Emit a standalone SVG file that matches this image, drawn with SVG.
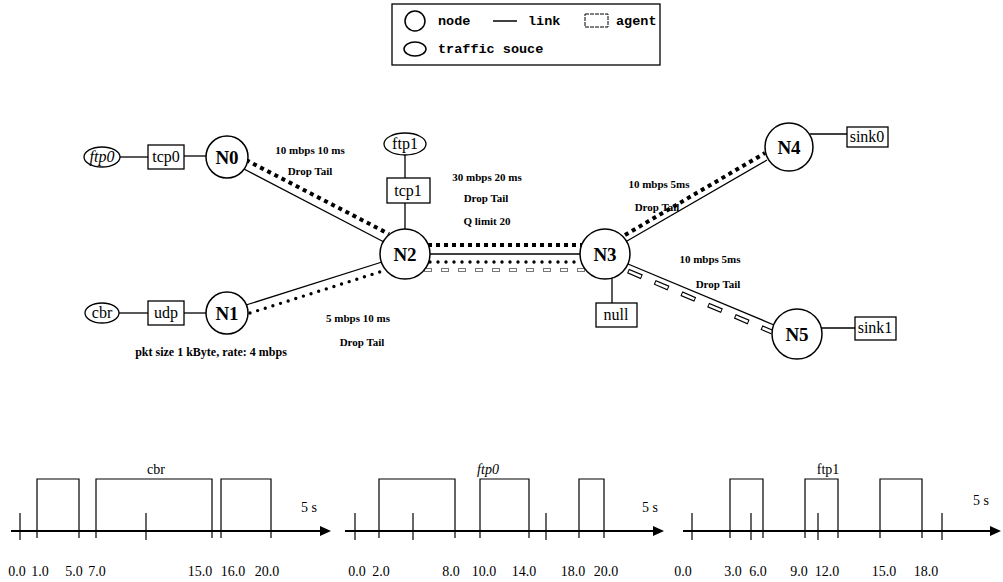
<svg xmlns="http://www.w3.org/2000/svg" width="1003" height="582" viewBox="0 0 1003 582">
<style>
.bg{fill:#fff}
.nd{fill:#fff;stroke:#000;stroke-width:1.5}
.ag{fill:#fff;stroke:#000;stroke-width:1.3}
.ln{stroke:#000;stroke-width:1.3;fill:none}
.sq{stroke:#000;stroke-width:4;stroke-dasharray:4 4;fill:none}
.rd{stroke:#000;stroke-width:3.4;stroke-linecap:round;stroke-dasharray:0 8;fill:none}
.nl{font-family:"Liberation Serif",serif;font-weight:bold;font-size:19px;text-anchor:middle}
.al{font-family:"Liberation Serif",serif;font-size:16px;text-anchor:middle}
.it{font-style:italic}
.lk{font-family:"Liberation Serif",serif;font-weight:bold;font-size:11px;text-anchor:middle}
.pk{font-family:"Liberation Serif",serif;font-weight:bold;font-size:12px;text-anchor:middle}
.lg{font-family:"Liberation Mono",monospace;font-weight:bold;font-size:13.5px}
.ch{font-family:"Liberation Serif",serif;font-size:14px;text-anchor:middle}
.ax{stroke:#000;stroke-width:2;fill:none}
.pl{stroke:#000;stroke-width:1.2;fill:none}
</style>
<rect class="bg" x="0" y="0" width="1003" height="582"/>

<g id="legend">
<rect x="392" y="4" width="268" height="61" fill="#fff" stroke="#000" stroke-width="1.3"/>
<circle cx="415" cy="21" r="10" fill="none" stroke="#000" stroke-width="1.5"/>
<text class="lg" x="438" y="25">node</text>
<line x1="493" y1="21" x2="517" y2="21" stroke="#000" stroke-width="1.5"/>
<text class="lg" x="528" y="25">link</text>
<rect x="585" y="14" width="23" height="13" fill="none" stroke="#000" stroke-width="1" stroke-dasharray="4 1"/>
<text class="lg" x="616" y="25">agent</text>
<ellipse cx="415" cy="49" rx="11" ry="7" fill="none" stroke="#000" stroke-width="1.5"/>
<text class="lg" x="438" y="53">traffic souce</text>
</g>

<g id="connectors">
<line class="ln" x1="120" y1="157" x2="148" y2="157"/>
<line class="ln" x1="184" y1="156" x2="206" y2="156"/>
<line class="ln" x1="119" y1="313" x2="148" y2="313"/>
<line class="ln" x1="184" y1="313" x2="206" y2="313"/>
<line class="ln" x1="405" y1="154" x2="405" y2="178"/>
<line class="ln" x1="405" y1="203" x2="405" y2="230"/>
<line class="ln" x1="612" y1="276" x2="612" y2="303"/>
<line class="ln" x1="810" y1="134" x2="847" y2="134"/>
<line class="ln" x1="820" y1="328" x2="855" y2="328"/>
<line class="ln" x1="242" y1="168" x2="384" y2="242"/>
<line class="sq" x1="246" y1="160" x2="389" y2="234"/>
<line class="ln" x1="246" y1="305" x2="382" y2="262"/>
<line class="rd" x1="250" y1="313" x2="386" y2="270"/>
<line class="ln" x1="430" y1="254" x2="580" y2="254"/>
<line class="sq" x1="428" y1="245" x2="583" y2="245"/>
<line class="rd" x1="430" y1="262" x2="582" y2="262"/>
<line x1="424" y1="270" x2="588" y2="270" stroke="#777" stroke-width="4" stroke-dasharray="8 9"/>
<line x1="424" y1="270" x2="588" y2="270" stroke="#fff" stroke-width="2" stroke-dasharray="6 11" stroke-dashoffset="-1"/>
<line class="ln" x1="627" y1="241" x2="767" y2="160"/>
<line class="sq" x1="625" y1="235" x2="765" y2="153"/>
<line class="ln" x1="628" y1="264" x2="774" y2="325"/>
<line x1="628" y1="271" x2="772" y2="332" stroke="#000" stroke-width="5" stroke-dasharray="15 14"/>
<line x1="628" y1="271" x2="772" y2="332" stroke="#fff" stroke-width="2.6" stroke-dasharray="13 16" stroke-dashoffset="-1"/>
</g>

<g id="ftp0"><ellipse class="ag" cx="102" cy="157" rx="18" ry="10"/><text class="al it" x="102" y="162">ftp0</text></g>
<g id="tcp0"><rect class="ag" x="148" y="145" width="36" height="24"/><text class="al" x="166" y="162">tcp0</text></g>
<g id="N0"><circle class="nd" cx="227" cy="157" r="21"/><text class="nl" x="227" y="164">N0</text></g>
<g id="ftp1"><ellipse class="ag" cx="405" cy="144" rx="21" ry="11"/><text class="al" x="405" y="149">ftp1</text></g>
<g id="tcp1"><rect class="ag" x="387" y="178" width="43" height="25"/><text class="al" x="408" y="196">tcp1</text></g>
<g id="N2"><circle class="nd" cx="405" cy="254" r="25"/><text class="nl" x="405" y="261">N2</text></g>
<g id="N3"><circle class="nd" cx="605" cy="254" r="25"/><text class="nl" x="605" y="261">N3</text></g>
<g id="null"><rect class="ag" x="596" y="303" width="41" height="24"/><text class="al" x="616" y="320">null</text></g>
<g id="N4"><circle class="nd" cx="789" cy="147" r="24"/><text class="nl" x="789" y="154">N4</text></g>
<g id="sink0"><rect class="ag" x="847" y="127" width="41" height="20"/><text class="al" x="867" y="142">sink0</text></g>
<g id="N5"><circle class="nd" cx="797" cy="334" r="25"/><text class="nl" x="797" y="341">N5</text></g>
<g id="sink1"><rect class="ag" x="855" y="317" width="41" height="23"/><text class="al" x="875" y="333">sink1</text></g>
<g id="cbr"><ellipse class="ag" cx="102" cy="313" rx="17" ry="10"/><text class="al" x="102" y="318">cbr</text></g>
<g id="udp"><rect class="ag" x="148" y="301" width="36" height="24"/><text class="al" x="166" y="318">udp</text></g>
<g id="N1"><circle class="nd" cx="227" cy="313" r="21"/><text class="nl" x="227" y="320">N1</text></g>

<g id="link-labels">
<text class="lk" x="310" y="154">10 mbps 10 ms</text>
<text class="lk" x="310" y="175">Drop Tail</text>
<text class="lk" x="487" y="181">30 mbps 20 ms</text>
<text class="lk" x="486" y="202">Drop Tail</text>
<text class="lk" x="487" y="225">Q limit 20</text>
<text class="lk" x="659" y="188">10 mbps 5ms</text>
<text class="lk" x="657" y="211">Drop Tail</text>
<text class="lk" x="710" y="263">10 mbps 5ms</text>
<text class="lk" x="718" y="288">Drop Tail</text>
<text class="lk" x="358" y="322">5 mbps 10 ms</text>
<text class="lk" x="362" y="346">Drop Tail</text>
<text class="pk" x="211" y="356">pkt size 1 kByte, rate: 4 mbps</text>
</g>

<g id="chart-cbr">
<line class="ax" x1="11" y1="531" x2="322" y2="531"/>
<polygon points="320,526 331,531 320,536"/>
<line class="pl" x1="20" y1="513" x2="20" y2="540"/>
<line class="pl" x1="146" y1="513" x2="146" y2="540"/>
<path class="pl" d="M37,538V479H79V538M96,538V479H212V538M221,538V479H271V538"/>
<text class="ch" x="156" y="474">cbr</text>
<text class="ch" x="309" y="512">5 s</text>
<text class="ch" x="17" y="576">0.0</text>
<text class="ch" x="40" y="576">1.0</text>
<text class="ch" x="74" y="576">5.0</text>
<text class="ch" x="97" y="576">7.0</text>
<text class="ch" x="200" y="576">15.0</text>
<text class="ch" x="233" y="576">16.0</text>
<text class="ch" x="267" y="576">20.0</text>
</g>

<g id="chart-ftp0">
<line class="ax" x1="345" y1="531" x2="655" y2="531"/>
<polygon points="653,526 664,531 653,536"/>
<line class="pl" x1="355" y1="513" x2="355" y2="540"/>
<line class="pl" x1="413" y1="513" x2="413" y2="540"/>
<line class="pl" x1="546" y1="513" x2="546" y2="540"/>
<path class="pl" d="M379,538V479H455V538M480,538V479H529V538M579,538V479H604V538"/>
<text class="ch it" x="488" y="474">ftp0</text>
<text class="ch" x="650" y="512">5 s</text>
<text class="ch" x="357" y="576">0.0</text>
<text class="ch" x="381" y="576">2.0</text>
<text class="ch" x="451" y="576">8.0</text>
<text class="ch" x="484" y="576">10.0</text>
<text class="ch" x="524" y="576">14.0</text>
<text class="ch" x="573" y="576">18.0</text>
<text class="ch" x="606" y="576">20.0</text>
</g>

<g id="chart-ftp1">
<line class="ax" x1="683" y1="531" x2="992" y2="531"/>
<polygon points="990,526 1001,531 990,536"/>
<line class="pl" x1="692" y1="513" x2="692" y2="540"/>
<line class="pl" x1="751" y1="513" x2="751" y2="540"/>
<line class="pl" x1="818" y1="513" x2="818" y2="540"/>
<line class="pl" x1="942" y1="513" x2="942" y2="540"/>
<path class="pl" d="M730,538V479H763V538M805,538V479H838V538M880,538V479H922V538"/>
<text class="ch" x="828" y="474">ftp1</text>
<text class="ch" x="981" y="505">5 s</text>
<text class="ch" x="683" y="576">0.0</text>
<text class="ch" x="733" y="576">3.0</text>
<text class="ch" x="758" y="576">6.0</text>
<text class="ch" x="799" y="576">9.0</text>
<text class="ch" x="827" y="576">12.0</text>
<text class="ch" x="884" y="576">15.0</text>
<text class="ch" x="926" y="576">18.0</text>
</g>
</svg>
